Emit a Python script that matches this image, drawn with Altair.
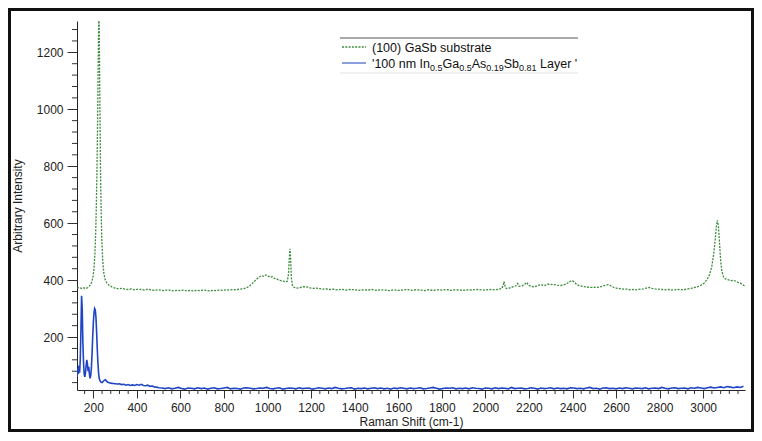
import altair as alt
import pandas as pd

# ---------------- data ----------------
# (100) GaSb substrate : (Raman shift, intensity)
gasb_points = [
    (125, 372), (135, 374), (145, 371), (155, 373), (165, 370), (175, 374), (185, 382),
    (192, 392), (198, 410), (203, 440), (207, 490), (211, 570), (214, 670), (217, 800),
    (219, 920), (221, 1050), (223, 1200), (225, 1340), (227, 1290), (229, 1120),
    (231, 940), (233, 780), (236, 640), (239, 540), (243, 470), (248, 425), (254, 402),
    (262, 390), (272, 382), (285, 376), (300, 372), (315, 369), (330, 371), (345, 368),
    (360, 367), (375, 369), (390, 366), (405, 368), (420, 367), (435, 365), (450, 368),
    (465, 366), (480, 364), (495, 366), (510, 365), (525, 363), (540, 366), (555, 364),
    (570, 362), (585, 364), (600, 363), (615, 365), (630, 362), (645, 364), (660, 362),
    (675, 364), (690, 363), (705, 365), (720, 364), (735, 362), (750, 364), (765, 363),
    (780, 365), (795, 364), (810, 366), (825, 365), (840, 367), (855, 366), (870, 368),
    (885, 369), (900, 372), (915, 378), (930, 388), (945, 400), (960, 410), (972, 416),
    (982, 413), (992, 418), (1002, 414), (1012, 410), (1022, 412), (1032, 406),
    (1042, 404), (1052, 400), (1062, 398), (1072, 396), (1082, 394), (1090, 395),
    (1096, 420), (1100, 480), (1103, 510), (1106, 470), (1109, 410), (1114, 382),
    (1122, 374), (1135, 372), (1150, 374), (1165, 377), (1180, 376), (1195, 373),
    (1210, 371), (1225, 372), (1240, 370), (1255, 368), (1270, 369), (1285, 367),
    (1300, 368), (1320, 366), (1340, 368), (1360, 365), (1380, 367), (1400, 366),
    (1420, 364), (1440, 366), (1460, 365), (1480, 367), (1500, 364), (1520, 366),
    (1540, 365), (1560, 363), (1580, 366), (1600, 364), (1620, 365), (1640, 367),
    (1660, 364), (1680, 366), (1700, 365), (1720, 363), (1740, 366), (1760, 364),
    (1780, 366), (1800, 365), (1820, 367), (1840, 364), (1860, 366), (1880, 365),
    (1900, 364), (1920, 366), (1940, 365), (1960, 367), (1980, 366), (2000, 365),
    (2020, 367), (2040, 366), (2060, 368), (2075, 370), (2082, 382), (2086, 395),
    (2090, 380), (2096, 370), (2110, 372), (2125, 376), (2140, 380), (2148, 388),
    (2155, 378), (2170, 380), (2182, 386), (2190, 392), (2198, 382), (2210, 378),
    (2225, 376), (2240, 381), (2255, 384), (2270, 380), (2285, 386), (2300, 385),
    (2315, 384), (2330, 382), (2345, 381), (2360, 383), (2375, 388), (2390, 396),
    (2400, 398), (2410, 392), (2420, 384), (2435, 380), (2450, 377), (2465, 376),
    (2480, 374), (2495, 375), (2510, 374), (2525, 376), (2540, 379), (2555, 383),
    (2565, 384), (2575, 380), (2590, 374), (2605, 371), (2620, 370), (2635, 368),
    (2650, 368), (2665, 366), (2680, 367), (2695, 366), (2710, 368), (2725, 369),
    (2740, 372), (2752, 374), (2765, 371), (2780, 369), (2795, 368), (2810, 367),
    (2825, 366), (2840, 367), (2855, 365), (2870, 366), (2885, 367), (2900, 366),
    (2915, 367), (2930, 369), (2945, 371), (2960, 374), (2975, 377), (2990, 382),
    (3005, 390), (3018, 402), (3030, 420), (3040, 450), (3048, 490), (3055, 540),
    (3060, 585), (3065, 610), (3070, 590), (3075, 530), (3080, 470), (3086, 430),
    (3093, 412), (3100, 405), (3110, 402), (3120, 400), (3130, 398), (3140, 399),
    (3150, 396), (3160, 392), (3170, 390), (3180, 384), (3190, 380),
]

# '100 nm InGaAsSb layer' : low-wavenumber part (Raman shift, intensity)
layer_head_points = [
    (125, 60), (128, 90), (131, 70), (134, 100), (137, 75), (140, 120), (143, 220),
    (146, 345), (149, 300), (152, 180), (155, 110), (158, 70), (161, 60), (164, 75),
    (167, 100), (170, 120), (173, 105), (176, 80), (179, 95), (182, 70), (185, 55),
    (188, 65), (191, 90), (194, 140), (197, 200), (200, 250), (203, 285), (206, 300),
    (209, 295), (212, 270), (215, 220), (218, 160), (221, 110), (224, 75), (227, 55),
    (231, 46), (235, 42), (240, 40), (245, 44), (250, 48), (255, 50), (260, 46),
    (265, 42), (270, 40), (280, 38), (290, 37), (300, 36), (310, 35), (320, 36),
    (330, 33), (340, 34), (350, 31), (360, 33), (370, 30), (380, 32), (390, 30),
    (400, 33), (410, 31), (420, 34), (430, 30), (440, 29), (450, 31), (460, 27),
    (470, 28), (480, 25), (490, 24), (500, 22),
]
# tail of the layer spectrum, sampled every 15 cm-1 from 515 cm-1
layer_tail_start = 515
layer_tail_step = 15
layer_tail_int = [
    21, 19, 22, 18, 20, 23, 19, 17, 21, 20, 18, 22, 19, 21, 17, 20, 22, 18, 19, 21,
    23, 18, 20, 19, 17, 21, 22, 20, 18, 19, 21, 20, 23, 19, 18, 20, 22, 17, 19, 21,
    20, 18, 22, 19, 20, 21, 17, 19, 22, 20, 18, 21, 19, 23, 20, 18, 19, 21, 22, 17,
    20, 19, 21, 18, 20, 22, 19, 21, 18, 20, 17, 21, 19, 22, 20, 18, 21, 19, 20, 22,
    18, 19, 21, 23, 20, 17, 19, 21, 20, 22, 18, 20, 19, 21, 18, 22, 20, 19, 17, 21,
    20, 18, 22, 19, 21, 20, 18, 23, 19, 20, 21, 18, 19, 22, 20, 17, 21, 19, 20, 22,
    18, 21, 19, 20, 18, 22, 21, 19, 20, 18, 21, 23, 19, 20, 17, 21, 22, 19, 20, 18,
    21, 19, 22, 20, 18, 21, 20, 19, 22, 18, 20, 21, 19, 23, 20, 18, 21, 22, 19, 20,
    21, 18, 22, 20, 23, 21, 19, 22, 24, 21, 23, 25, 22, 26, 24, 22, 25, 23, 27,
]

x_major = [200, 400, 600, 800, 1000, 1200, 1400, 1600, 1800, 2000, 2200, 2400, 2600, 2800, 3000]
y_major = [200, 400, 600, 800, 1000, 1200]
x_domain = [125, 3192]
y_domain = [14, 1310]

series_names = ["(100) GaSb substrate", "'100 nm InGaAsSb Layer '"]

# ---------------- tables ----------------
gasb_df = pd.DataFrame({"shift": [p[0] for p in gasb_points],
                        "intensity": [p[1] for p in gasb_points]})
layer_shift = [p[0] for p in layer_head_points] + [
    layer_tail_start + layer_tail_step * i for i in range(len(layer_tail_int))]
layer_int = [p[1] for p in layer_head_points] + layer_tail_int
layer_df = pd.DataFrame({"shift": layer_shift, "intensity": layer_int})

x_minor_df = pd.DataFrame({"shift": [v for v in range(160, 3192, 40) if v % 200 != 0]})
y_minor_df = pd.DataFrame({"intensity": [v for v in range(40, 1310, 40) if v % 200 != 0]})

FONT = "Liberation Sans"
W, H = 668, 369
PL, PT, PR, PB = 69, 13, 9, 42

xs = alt.Scale(domain=x_domain, nice=False, zero=False)
ys = alt.Scale(domain=y_domain, nice=False, zero=False)

common = dict(labelFontSize=12, titleFontSize=12, titleFontWeight="normal", grid=False,
              domainColor="#222", tickColor="#333", labelColor="#222", titleColor="#222",
              labelFont=FONT, titleFont=FONT, format="d")

x_axis = alt.Axis(values=x_major, title="Raman Shift (cm-1)", tickSize=8, labelPadding=4,
                  titlePadding=3, orient="bottom", **common)
y_axis = alt.Axis(values=y_major, title="Arbitrary Intensity", tickSize=10, labelPadding=4,
                  titlePadding=12, orient="left", **common)

X = alt.X("shift:Q", scale=xs, axis=x_axis)
Y = alt.Y("intensity:Q", scale=ys, axis=y_axis)

green = alt.Chart(gasb_df).mark_line(
    color="#3c8c3c", strokeWidth=1.3, strokeDash=[2, 1.3], clip=True
).encode(x=X, y=Y)

blue = alt.Chart(layer_df).mark_line(
    color="#1f45c4", strokeWidth=1.6, clip=True
).encode(x=X, y=Y)

# minor ticks on both axes
x_minor = alt.Chart(x_minor_df).mark_rule(color="#333", strokeWidth=1).encode(
    x=X, y=alt.value(H), y2=alt.value(H + 4))
y_minor = alt.Chart(y_minor_df).mark_rule(color="#333", strokeWidth=1).encode(
    y=Y, x=alt.value(-5), x2=alt.value(0))

one = pd.DataFrame({"a": [0]})

frame = alt.Chart(one).mark_rect(fill="transparent", stroke="#111", strokeWidth=3).encode(
    x=alt.value(-PL + 1.5), x2=alt.value(W + PR - 1.5),
    y=alt.value(-PT + 1.5), y2=alt.value(H + PB - 1.5),
)

# legend (drawn by hand, with subscripts)
leg_top = alt.Chart(one).mark_rule(color="#555", strokeWidth=1).encode(
    x=alt.value(263), x2=alt.value(501), y=alt.value(17))
leg_bottom = alt.Chart(one).mark_rule(color="#e2e2e2", strokeWidth=1).encode(
    x=alt.value(263), x2=alt.value(501), y=alt.value(52))
leg_green = alt.Chart(one).mark_rule(color="#3c8c3c", strokeWidth=1.3, strokeDash=[2, 1.3]).encode(
    x=alt.value(265), x2=alt.value(289), y=alt.value(26))
leg_blue = alt.Chart(one).mark_rule(color="#3a5fc8", strokeWidth=1.2).encode(
    x=alt.value(265), x2=alt.value(289), y=alt.value(42))

# Arial-like advance widths (em) used to place the text pieces
AW = {"'": 0.191, "1": 0.556, "0": 0.556, "9": 0.556, "8": 0.556, "5": 0.556, ".": 0.278,
      " ": 0.278, "n": 0.556, "m": 0.833, "I": 0.278, "G": 0.778, "a": 0.556,
      "A": 0.667, "s": 0.5, "S": 0.667, "b": 0.556, "L": 0.556, "y": 0.5, "e": 0.556, "r": 0.333}

def width(s, size):
    return sum(AW.get(c, 0.55) for c in s) * size

MAIN, SUB = 12.5, 9
# (text, is_subscript, gap before in px)
pieces = [("'100 nm In", False, 0), ("0.5", True, 0), ("Ga", False, 0), ("0.5", True, 0),
          ("As", False, 0), ("0.19", True, 0), ("Sb", False, 0), ("0.81", True, 0),
          ("Layer '", False, 0.278 * MAIN)]

legend_texts = [
    alt.Chart(one).mark_text(align="left", baseline="alphabetic", fontSize=MAIN, font=FONT,
                             color="#111").encode(
        x=alt.value(295), y=alt.value(30.5), text=alt.value(series_names[0]))
]
cx = 295.0
for s, sub, gap in pieces:
    size = SUB if sub else MAIN
    cx += gap
    legend_texts.append(
        alt.Chart(one).mark_text(align="left", baseline="alphabetic", fontSize=size, font=FONT,
                                 color="#111").encode(
            x=alt.value(cx), y=alt.value(49.5 if sub else 46.5), text=alt.value(s))
    )
    cx += width(s, size)

chart = alt.layer(
    green, blue, x_minor, y_minor, frame, leg_top, leg_bottom, leg_green, leg_blue, *legend_texts
).properties(
    width=W, height=H,
    autosize=alt.AutoSizeParams(type="none"),
    padding={"left": PL, "top": PT, "right": PR, "bottom": PB},
    background="white",
).configure_view(strokeWidth=0)

chart.save("out.html", embed_options={"renderer": "svg", "actions": False})
